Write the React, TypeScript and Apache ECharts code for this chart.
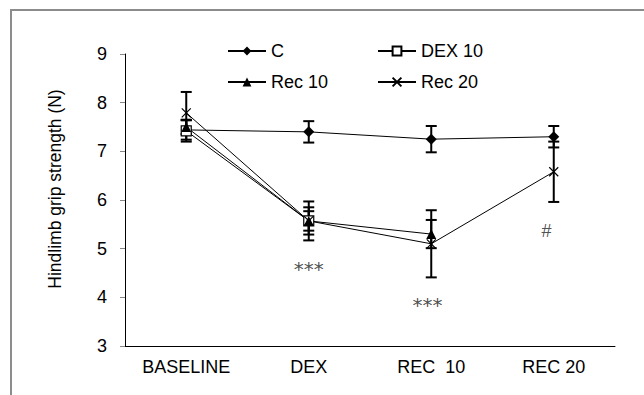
import React, { useEffect, useRef } from "react";
import * as echarts from "echarts";

const categories = ["BASELINE", "DEX", "REC  10", "REC 20"];
const yTicks = [3, 4, 5, 6, 7, 8, 9];

const cMean = [7.44, 7.4, 7.25, 7.3];
const cErr = [0.2, 0.22, 0.27, 0.22];
const dex10Mean = [7.42, 5.57];
const dex10Err = [0.22, 0.2];
const rec10Mean = [7.5, 5.57, 5.3];
const rec10Err = [0.15, 0.28, 0.29];
const rec20Mean = [7.79, 5.57, 5.1, 6.58];
const rec20Err = [0.43, 0.4, 0.69, 0.62];

const annotations = [
  { text: "***", x: 1.0, y: 4.58, font: "DejaVu Sans", size: 20 },
  { text: "***", x: 1.97, y: 3.84, font: "DejaVu Sans", size: 20 },
  { text: "#", x: 2.94, y: 5.36, font: "Liberation Sans", size: 18 },
];

const seriesDefs = [
  { name: "C", mean: cMean, err: cErr, symbol: "diamond", size: 11, fill: "#000" },
  { name: "DEX 10", mean: dex10Mean, err: dex10Err, symbol: "rect", size: 10, fill: "#fff" },
  { name: "Rec 10", mean: rec10Mean, err: rec10Err, symbol: "triangle", size: 10, fill: "#000" },
  { name: "Rec 20", mean: rec20Mean, err: rec20Err, symbol: "path://M0,0L10,10M10,0L0,10", size: 9, fill: "none" },
];

export default function App() {
  const ref = useRef<HTMLDivElement>(null);
  useEffect(() => {
    const chart = echarts.init(ref.current!, null, { renderer: "svg" });
    const errData: number[][] = [];
    seriesDefs.forEach((s) => {
      s.mean.forEach((m, i) => errData.push([i, m - s.err[i], m + s.err[i]]));
    });
    const legendPos = [
      { left: 222, top: 37 },
      { left: 372, top: 37 },
      { left: 222, top: 68 },
      { left: 372, top: 68 },
    ];
    const option: any = {
      animation: false,
      backgroundColor: "#fff",
      graphic: [
        {
          type: "rect",
          shape: { x: 11, y: 10, width: 800, height: 600 },
          style: { fill: "none", stroke: "#8c8c8c", lineWidth: 2 },
          silent: true,
        },
        {
          type: "text",
          x: 55,
          y: 189,
          rotation: Math.PI / 2,
          style: {
            text: "Hindlimb grip strength (N)",
            fontFamily: "Liberation Sans",
            fontSize: 17.5,
            fill: "#000",
            align: "center",
            verticalAlign: "middle",
          },
        },
      ],
      legend: seriesDefs.map((s, i) => ({
        data: [s.name],
        left: legendPos[i].left,
        top: legendPos[i].top,
        itemWidth: 38,
        itemHeight: 11,
        itemGap: 5,
        textStyle: { fontFamily: "Liberation Sans", fontSize: 18, color: "#000" },
        selectedMode: false,
      })),
      grid: { left: 125, right: 29, top: 54, bottom: 49 },
      xAxis: [
        {
          type: "category",
          data: categories,
          boundaryGap: true,
          axisLine: { lineStyle: { color: "#000", width: 1 } },
          axisTick: { show: false },
          axisLabel: {
            fontFamily: "Liberation Sans",
            fontSize: 18,
            color: "#000",
            margin: 12,
          },
        },
        {
          type: "value",
          min: -0.5,
          max: 3.5,
          show: false,
        },
      ],
      yAxis: {
        type: "value",
        min: yTicks[0],
        max: yTicks[yTicks.length - 1],
        interval: 1,
        splitLine: { show: false },
        axisLine: { show: true, onZero: false, lineStyle: { color: "#000", width: 1 } },
        axisTick: { show: true, length: 5, lineStyle: { color: "#888" } },
        axisLabel: { fontFamily: "Liberation Sans", fontSize: 18, color: "#000", margin: 18 },
      },
      series: [
        {
          type: "custom",
          name: "err",
          xAxisIndex: 0,
          yAxisIndex: 0,
          z: 1,
          encode: { x: 0, y: [1, 2] },
          data: errData,
          renderItem: (params: any, api: any) => {
            const x = api.value(0);
            const lo = api.coord([x, api.value(1)]);
            const hi = api.coord([x, api.value(2)]);
            const w = 5.5;
            const style = { stroke: "#000", lineWidth: 2 };
            return {
              type: "group",
              children: [
                { type: "line", shape: { x1: hi[0], y1: hi[1], x2: lo[0], y2: lo[1] }, style },
                { type: "line", shape: { x1: hi[0] - w, y1: hi[1], x2: hi[0] + w, y2: hi[1] }, style },
                { type: "line", shape: { x1: lo[0] - w, y1: lo[1], x2: lo[0] + w, y2: lo[1] }, style },
              ],
            };
          },
        },
        ...seriesDefs.map((s) => ({
          type: "line",
          name: s.name,
          xAxisIndex: 0,
          yAxisIndex: 0,
          z: 3,
          data: s.mean.map((m, i) => [i, m]),
          symbol: s.symbol,
          symbolSize: s.size,
          showAllSymbol: true,
          lineStyle: { color: "#000", width: 1 },
          itemStyle: {
            color: s.fill === "none" ? "#fff" : s.fill,
            borderColor: "#000",
            borderWidth: s.fill === "#000" ? 0 : 1.2,
            opacity: 1,
          },
          emphasis: { disabled: true },
        })),
        {
          type: "scatter",
          name: "annot",
          xAxisIndex: 1,
          yAxisIndex: 0,
          symbolSize: 0,
          data: annotations.map((a) => ({
            value: [a.x, a.y],
            name: a.text,
            label: { fontFamily: a.font, fontSize: a.size },
          })),
          label: {
            show: true,
            position: "inside",
            formatter: (p: any) => p.name,
            color: "#222",
          },
        },
      ],
    };
    chart.setOption(option);
    return () => chart.dispose();
  }, []);
  return (
    <div
      ref={ref}
      style={{ position: "fixed", left: 0, top: 0, width: 644, height: 395 }}
    />
  );
}
